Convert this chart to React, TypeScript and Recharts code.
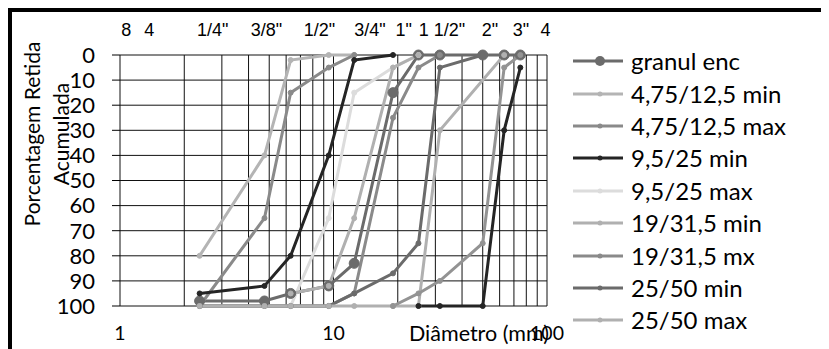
import React from "react";
import { LineChart, Line, XAxis, YAxis, CartesianGrid, Legend } from "recharts";

// Sieve openings (mm) used as the x positions of every curve
const sieves = [2.36, 4.75, 6.3, 9.5, 12.5, 19, 25, 31.5, 50, 63, 75];

// Cumulative % retained per sieve (null = no point on that sieve)
const granulEnc = [98, 98, 95, 92, 83, 15, 0, 0, 0, 0, 0];
const min4_75 = [80, 40, 2, 0, 0, null, null, null, null, null, null];
const max4_75 = [100, 65, 15, 5, 0, null, null, null, null, null, null];
const min9_5 = [95, 92, 80, 40, 2, 0, null, null, null, null, null];
const max9_5 = [100, 100, 100, 65, 15, 5, 0, null, null, null, null];
const min19 = [null, null, 95, 92, 65, 5, 0, null, null, null, null];
const max19 = [100, 100, 100, 100, 95, 25, 5, 0, null, null, null];
const min25 = [100, 100, 100, 100, 95, 87, 75, 5, 0, null, null];
const max25 = [100, 100, 100, 100, 100, 100, 100, 30, null, 0, null];
const min37_5 = [null, null, null, null, null, 100, 95, 90, 75, 5, 0];
const max37_5 = [null, null, null, null, null, null, 100, 100, 100, 30, 5];

// Axis ticks
const gridTicks = [1, 2, 3, 4, 5, 6, 7, 8, 9, 10, 20, 30, 40, 50, 60, 70, 80, 90, 100];
const labelledTicks = [1, 10, 100];
const yTicks = [0, 10, 20, 30, 40, 50, 60, 70, 80, 90, 100];

// Sieve designations shown along the top edge, with their place on the mm scale
const topTickLabels = ["8", "4", "1/4\"", "3/8\"", "1/2\"", "3/4\"", "1\"", "1 1/2\"", "2\"", "3\"", "4"];
const topTickAt = [1.07, 1.37, 2.72, 4.85, 8.6, 14.8, 21.3, 32.2, 54, 75.5, 98.5];

const FONT = "Lato, 'Open Sans', sans-serif";

type Series = {
  name: string;
  values: (number | null)[];
  color: string;
  big?: boolean;
  inLegend: boolean;
};

const series: Series[] = [
  { name: "granul enc", values: granulEnc, color: "#6b6b6b", big: true, inLegend: true },
  { name: "4,75/12,5 min", values: min4_75, color: "#b4b4b4", inLegend: true },
  { name: "4,75/12,5 max", values: max4_75, color: "#8a8a8a", inLegend: true },
  { name: "9,5/25 min", values: min9_5, color: "#252525", inLegend: true },
  { name: "9,5/25 max", values: max9_5, color: "#dcdcdc", inLegend: true },
  { name: "19/31,5 min", values: min19, color: "#b0b0b0", inLegend: true },
  { name: "19/31,5 mx", values: max19, color: "#8a8a8a", inLegend: true },
  { name: "25/50 min", values: min25, color: "#6b6b6b", inLegend: true },
  { name: "25/50 max", values: max25, color: "#b0b0b0", inLegend: true },
  { name: "37,5/75 min", values: min37_5, color: "#939393", inLegend: false },
  { name: "37,5/75 max", values: max37_5, color: "#252525", inLegend: false },
];

const toPoints = (values: (number | null)[]) =>
  values
    .map((v, i) => (v === null ? null : { d: sieves[i], p: v }))
    .filter((pt): pt is { d: number; p: number } => pt !== null);

function LegendBox() {
  return (
    <div style={{ display: "flex", flexDirection: "column" }}>
      {series
        .filter((s) => s.inLegend)
        .map((s) => (
          <div key={s.name} style={{ display: "flex", alignItems: "center", height: 32.4 }}>
            <svg width={50} height={14} style={{ flex: "none" }}>
              <line x1={0} y1={7} x2={50} y2={7} stroke={s.color} strokeWidth={3} />
              <circle cx={27} cy={7} r={s.big ? 5 : 2.5} fill={s.color} />
            </svg>
            <span
              style={{
                marginLeft: 8,
                fontFamily: FONT,
                fontSize: 24,
                color: "#000",
                whiteSpace: "nowrap",
                lineHeight: "32px",
              }}
            >
              {s.name}
            </span>
          </div>
        ))}
    </div>
  );
}

function YTitle(props: any) {
  const vb = props.viewBox || { x: 0, y: 47 };
  const cy = vb.y + 79;
  const x1 = vb.x + 23;
  const x2 = vb.x + 52;
  const common = { fontFamily: FONT, fontSize: 21, fill: "#000", textAnchor: "middle" as const, dominantBaseline: "central" as const };
  return (
    <g>
      <text x={x1} y={cy} transform={`rotate(-90 ${x1} ${cy})`} {...common}>
        Porcentagem Retida
      </text>
      <text x={x2} y={cy} transform={`rotate(-90 ${x2} ${cy})`} {...common}>
        Acumulada
      </text>
    </g>
  );
}

function XTitle(props: any) {
  const vb = props.viewBox || { x: 112, y: 298, width: 427 };
  return (
    <text x={vb.x + vb.width + 2} y={vb.y + 35} textAnchor="end" fontFamily={FONT} fontSize={21.5} fill="#000">
      Diâmetro (mm)
    </text>
  );
}

export default function App() {
  return (
    <div style={{ position: "relative", width: 821, height: 341 }}>
      <LineChart width={821} height={341} margin={{ top: 0, right: 282, bottom: 0, left: 0 }}>
        <CartesianGrid stroke="#111" strokeWidth={1} />
        <XAxis
          dataKey="d"
          type="number"
          scale="log"
          domain={[1, 100]}
          allowDataOverflow
          ticks={gridTicks}
          interval={0}
          tickFormatter={(v: number) => (labelledTicks.includes(v) ? String(v) : "")}
          height={43}
          tickSize={0}
          tickMargin={20}
          axisLine={false}
          tickLine={false}
          tick={{ fontFamily: FONT, fontSize: 19.5, fill: "#000" }}
          label={{ content: XTitle }}
        />
        <XAxis
          xAxisId="top"
          orientation="top"
          dataKey="d"
          type="number"
          scale="log"
          domain={[1, 100]}
          allowDataOverflow
          ticks={topTickAt}
          interval={0}
          tickFormatter={(v: number) => topTickLabels[topTickAt.indexOf(v)] ?? ""}
          height={47}
          tickSize={0}
          tickMargin={19}
          axisLine={false}
          tickLine={false}
          tick={{ fontFamily: "'Liberation Sans', Arial, sans-serif", fontSize: 18, fill: "#000" }}
        />
        <YAxis
          type="number"
          domain={[0, 100]}
          reversed
          ticks={yTicks}
          interval={0}
          width={112}
          tickSize={8}
          tickMargin={17}
          axisLine={false}
          tickLine={{ stroke: "#000" }}
          tick={{ fontFamily: FONT, fontSize: 22, fill: "#000" }}
          label={{ content: YTitle }}
        />
        <Legend
          layout="horizontal"
          verticalAlign="middle"
          align="center"
          content={() => <LegendBox />}
          wrapperStyle={{ left: 565, top: 37, width: 256, height: 300 }}
        />
        {series.map((s) => (
          <Line
            key={s.name}
            name={s.name}
            data={toPoints(s.values)}
            dataKey="p"
            type="linear"
            stroke={s.color}
            strokeWidth={3}
            dot={{ r: s.big ? 5 : 2.5, fill: s.color, stroke: s.color, strokeWidth: 1 }}
            activeDot={false}
            legendType={s.inLegend ? "line" : "none"}
            isAnimationActive={false}
          />
        ))}
      </LineChart>
      <div
        style={{
          position: "absolute",
          left: 0,
          top: 0,
          width: 821,
          height: 341,
          borderLeft: "4px solid #000",
          borderTop: "4px solid #000",
          boxSizing: "border-box",
          pointerEvents: "none",
        }}
      />
    </div>
  );
}
